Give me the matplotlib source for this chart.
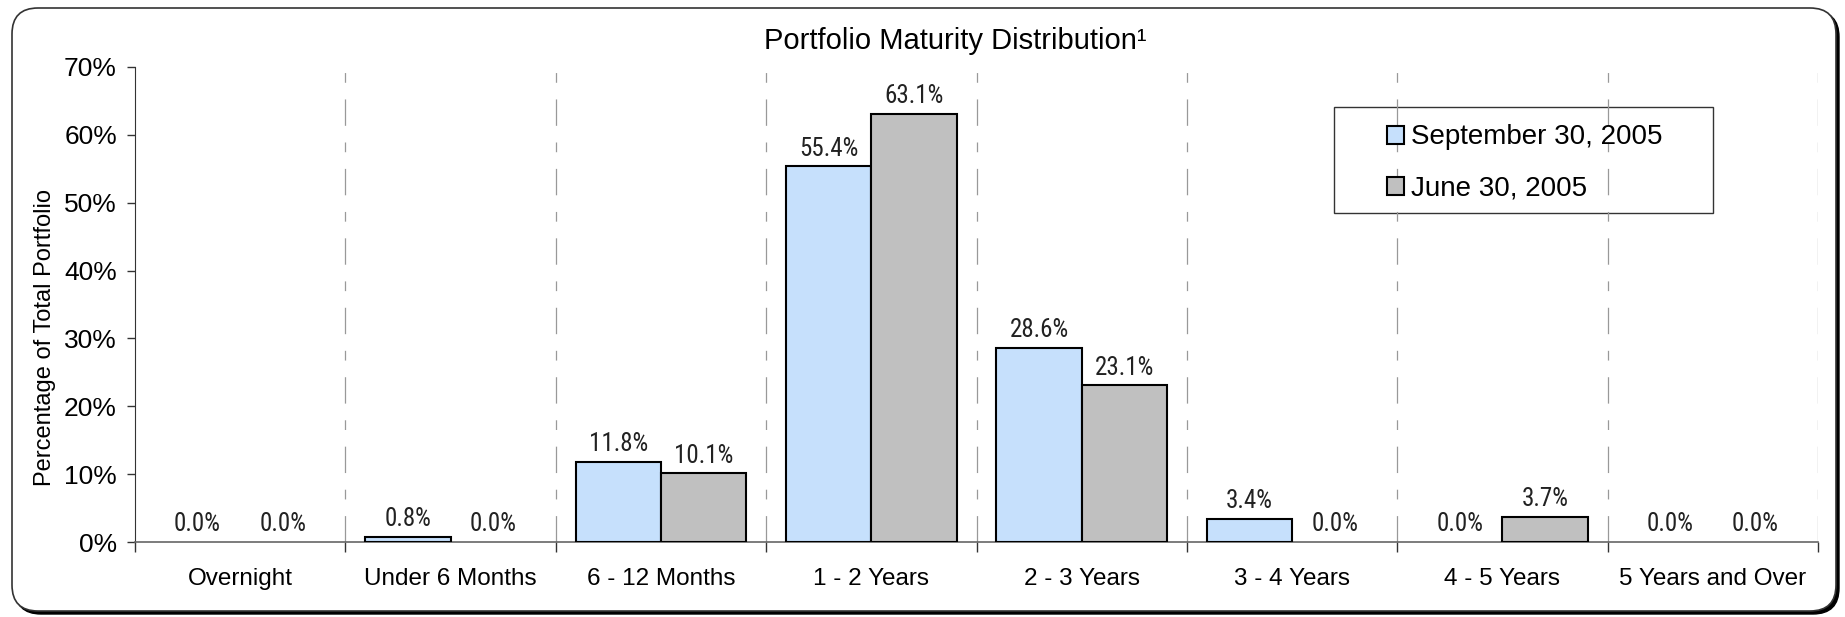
import numpy as np
import matplotlib
matplotlib.use("Agg")
import matplotlib.pyplot as pl
from matplotlib import font_manager
from matplotlib.patches import FancyBboxPatch, Rectangle, Patch

categories = ["Overnight", "Under 6 Months", "6 - 12 Months", "1 - 2 Years",
              "2 - 3 Years", "3 - 4 Years", "4 - 5 Years", "5 Years and Over"]
sep_2005 = [0.0, 0.8, 11.8, 55.4, 28.6, 3.4, 0.0, 0.0]
jun_2005 = [0.0, 0.0, 10.1, 63.1, 23.1, 0.0, 3.7, 0.0]
series_names = ["September 30, 2005", "June 30, 2005"]
series_colors = ["#C6E0FC", "#C0C0C0"]
y_ticks = [0, 10, 20, 30, 40, 50, 60, 70]

W, H = 1845, 617
pl.rcParams["font.family"] = ["Liberation Sans", "DejaVu Sans"]
pl.rcParams["lines.scale_dashes"] = False

# the value labels use a condensed face; pick whichever one is installed
fonts = font_manager.fontManager.ttflist
names = {f.name for f in fonts}
label_font = dict(family=["Liberation Sans", "DejaVu Sans"], fontsize=16)
if "Liberation Sans Narrow" in names:
    label_font = dict(family=["Liberation Sans Narrow", "DejaVu Sans"], fontsize=18)
elif "Roboto Condensed" in names:
    label_font = dict(family=["Roboto Condensed", "DejaVu Sans"], fontsize=18)
elif any(f.name == "DejaVu Sans" and f.stretch == "condensed" for f in fonts):
    label_font = dict(family=["DejaVu Sans"], fontstretch="condensed", fontsize=16)

fig = pl.figure(figsize=(W / 100, H / 100), dpi=100)

# background axes in pixel units for the rounded frame + shadow
bg = fig.add_axes([0, 0, 1, 1], zorder=-5)
bg.set_xlim(0, W)
bg.set_ylim(H, 0)
bg.axis("off")
bg.add_patch(FancyBboxPatch((15, 11), 1824, 603, boxstyle="round,pad=0,rounding_size=26",
                            facecolor="black", edgecolor="black", lw=1))
bg.add_patch(FancyBboxPatch((12, 8), 1824, 603, boxstyle="round,pad=0,rounding_size=26",
                            facecolor="white", edgecolor="#333333", lw=1.2))

ax = fig.add_axes([135 / W, 1 - 542 / H, (1818 - 135) / W, (542 - 67) / H])
ax.patch.set_alpha(0)
ax.set_zorder(1)

x = np.arange(len(categories))
bw = 0.405
kw = dict(edgecolor="black", linewidth=1.5, zorder=3)
bars1 = ax.bar(x - bw / 2, sep_2005, bw, color=series_colors[0], **kw)
bars2 = ax.bar(x + bw / 2, jun_2005, bw, color=series_colors[1], **kw)

for bars, vals in ((bars1, sep_2005), (bars2, jun_2005)):
    for b, v in zip(bars, vals):
        if v == 0:
            b.set_linewidth(0)
        ax.annotate(f"{v:.1f}%", (b.get_x() + b.get_width() / 2, v),
                    xytext=(0, 4), textcoords="offset points",
                    ha="center", va="bottom", color="#222222", **label_font)

for xb in np.arange(0.5, len(categories), 1.0):
    ax.axvline(xb, color="#999999", lw=0.9, dashes=(19, 12, 7, 12), zorder=1)

ax.set_xlim(-0.5, len(categories) - 0.5)
ax.set_ylim(0, 70)
ax.set_yticks(y_ticks)
ax.set_yticklabels([f"{t}%" for t in y_ticks], fontsize=19)
ax.set_xticks(np.arange(-0.5, len(categories), 1.0))
ax.set_xticklabels([])
ax.set_xticks(x, minor=True)
ax.set_xticklabels(categories, minor=True, fontsize=17.5)
ax.tick_params(axis="x", which="major", length=7, width=1, color="#333333")
ax.tick_params(axis="x", which="minor", length=0, pad=19)
ax.tick_params(axis="y", length=6, width=1, color="#333333", pad=7)
ax.spines["top"].set_visible(False)
ax.spines["right"].set_visible(False)
ax.spines["left"].set_color("#333333")
ax.spines["bottom"].set_color("#666666")
ax.spines["bottom"].set_linewidth(1.2)
ax.set_ylabel("Percentage of Total Portfolio", fontsize=17)
ax.yaxis.set_label_coords(-0.047, 0.43)

fig.text(955 / W, 1 - 41 / H, "Portfolio Maturity Distribution\u00b9",
         ha="center", va="center", fontsize=21)

# legend: box drawn by hand, entries built from the series colours
bg.add_patch(Rectangle((1334, 107), 379, 106, facecolor="white",
                       edgecolor="#333333", lw=1.0, zorder=2))
handles = [Patch(facecolor=c, edgecolor="black", linewidth=1.5) for c in series_colors]
leg = ax.legend(handles, series_names, loc="center left",
                bbox_to_anchor=(1387 / W, 1 - 163 / H),
                bbox_transform=fig.transFigure, fontsize=20, frameon=False,
                borderpad=0, handlelength=0.6, handleheight=0.6,
                handletextpad=0.25, labelspacing=0.9, borderaxespad=0)

fig.savefig("out.png", dpi=100)
